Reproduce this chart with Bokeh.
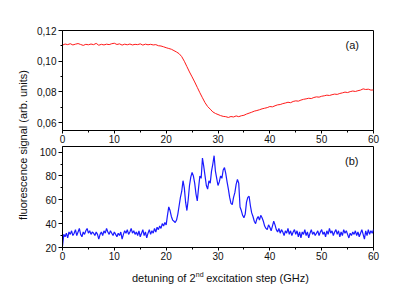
import math
from bokeh.plotting import figure
from bokeh.layouts import row, column
from bokeh.models import Label, Range1d, FixedTicker
from bokeh.embed import file_html
from bokeh.resources import INLINE

# ---------------- data ----------------
X_STEP_A = 0.5
signal_a = [
    0.1105, 0.1112, 0.1108, 0.1114, 0.1106, 0.1111, 0.1115, 0.1109, 0.1103, 0.1110,
    0.1107, 0.1112, 0.1108, 0.1116, 0.1104, 0.1110, 0.1106, 0.1111, 0.1108, 0.1114,
    0.1117, 0.1109, 0.1113, 0.1105, 0.1111, 0.1107, 0.1112, 0.1106, 0.1110, 0.1108,
    0.1113, 0.1105, 0.1111, 0.1107, 0.1110, 0.1106, 0.1108, 0.1101, 0.1099, 0.1094,
    0.1088, 0.1083, 0.1078, 0.1069, 0.1060, 0.1049, 0.1030, 0.1000, 0.0965, 0.0930,
    0.0898, 0.0865, 0.0830, 0.0795, 0.0762, 0.0730, 0.0705, 0.0688, 0.0670, 0.0660,
    0.0653, 0.0646, 0.0641, 0.0639, 0.0634, 0.0640, 0.0637, 0.0644, 0.0639, 0.0645,
    0.0648, 0.0656, 0.0662, 0.0668, 0.0675, 0.0679, 0.0684, 0.0690, 0.0694, 0.0698,
    0.0705, 0.0703, 0.0710, 0.0716, 0.0718, 0.0724, 0.0728, 0.0733, 0.0730, 0.0738,
    0.0742, 0.0740, 0.0747, 0.0752, 0.0755, 0.0759, 0.0757, 0.0764, 0.0768, 0.0766,
    0.0772, 0.0775, 0.0779, 0.0777, 0.0782, 0.0786, 0.0784, 0.0790, 0.0794, 0.0799,
    0.0796, 0.0802, 0.0806, 0.0803, 0.0808, 0.0812, 0.0820, 0.0816, 0.0818, 0.0812,
    0.0813,
]
detuning_a = [i * X_STEP_A for i in range(len(signal_a))]

X_STEP_B = 0.25
signal_b = [
    21, 31, 29, 32, 28, 33, 31, 34, 30, 32, 35, 30, 33, 36, 31, 29, 33, 31, 34, 36,
    32, 34, 31, 33, 32, 30, 33, 31, 27, 31, 33, 30, 34, 32, 36, 33, 31, 34, 32, 30,
    33, 31, 29, 32, 30, 33, 27, 31, 34, 32, 35, 31, 33, 36, 32, 34, 31, 33, 30, 34,
    29, 32, 35, 30, 33, 28, 32, 35, 31, 34, 32, 36, 33, 37, 35, 38, 36, 40, 38, 41,
    39, 47, 54, 51, 46, 43, 42, 41, 43, 48, 55, 62, 67, 76, 70, 58, 51, 60, 72, 79,
    83, 80, 74, 65, 59, 70, 80, 78, 95, 88, 80, 72, 69, 76, 74, 84, 90, 97, 84, 78,
    72, 75, 80, 78, 85, 87, 82, 75, 69, 62, 57, 56, 62, 66, 73, 77, 74, 54, 51, 47,
    45, 48, 58, 62, 63, 55, 49, 46, 42, 40, 44, 46, 43, 47, 45, 42, 38, 36, 35, 39,
    37, 34, 38, 42, 39, 35, 33, 36, 32, 35, 33, 30, 34, 32, 36, 31, 34, 30, 33, 35,
    31, 34, 29, 33, 28, 33, 31, 35, 30, 33, 28, 32, 35, 31, 33, 30, 32, 34, 30, 33,
    35, 31, 33, 29, 34, 31, 36, 32, 34, 30, 33, 35, 31, 34, 29, 33, 30, 35, 32, 34,
    31, 28, 32, 30, 33, 31, 34, 30, 33, 29, 32, 35, 31, 27, 34, 30, 35, 31, 34, 32,
    35,
]
detuning_b = [i * X_STEP_B for i in range(len(signal_b))]

X_TICKS = [0, 10, 20, 30, 40, 50, 60]
X_MINOR = [5, 15, 25, 35, 45, 55]
A_Y_TICKS = [0.06, 0.08, 0.10, 0.12]
A_Y_MINOR = [0.07, 0.09, 0.11]
A_Y_LABELS = ["0,06", "0,08", "0,10", "0,12"]
B_Y_TICKS = [20, 40, 60, 80, 100]
B_Y_MINOR = [30, 50, 70, 90]

X_TITLE_1 = "detuning of 2"
X_TITLE_SUP = "nd"
X_TITLE_2 = "excitation step (GHz)"
Y_TITLE = "fluorescence signal (arb. units)"

FONT = "Liberation Sans"
TICK_SIZE = "10px"
TXT = "#111111"

def style(p, yticks, yminor):
    p.background_fill_color = "white"
    p.border_fill_color = "white"
    p.outline_line_color = "black"
    p.outline_line_width = 1
    p.grid.visible = False
    p.xaxis.ticker = FixedTicker(ticks=X_TICKS, minor_ticks=X_MINOR)
    p.yaxis.ticker = FixedTicker(ticks=yticks, minor_ticks=yminor)
    for ax in (p.xaxis, p.yaxis):
        ax.axis_line_color = "black"
        ax.major_tick_line_color = "black"
        ax.minor_tick_line_color = "black"
        ax.major_label_text_font = FONT
        ax.major_label_text_font_size = TICK_SIZE
        ax.major_label_text_color = TXT
        ax.major_tick_in = 0
        ax.minor_tick_in = 0
    p.xaxis.major_tick_out = 3
    p.xaxis.minor_tick_out = 2
    p.xaxis.major_label_standoff = 1
    p.yaxis.major_tick_out = 4
    p.yaxis.minor_tick_out = 2
    p.yaxis.major_label_standoff = 2

def strip(width, height, x_range, y_range):
    s = figure(width=width, height=height, x_range=x_range, y_range=y_range,
               toolbar_location=None, output_backend="svg",
               x_axis_location=None, y_axis_location=None,
               min_border=0, min_border_left=0, min_border_right=0,
               min_border_top=0, min_border_bottom=0)
    s.outline_line_color = None
    s.grid.visible = False
    s.background_fill_color = "white"
    s.border_fill_color = "white"
    return s

# ---------------- top panel ----------------
pa = figure(width=380, height=145, x_range=Range1d(0, 60), y_range=Range1d(0.0549, 0.12),
            toolbar_location=None, output_backend="svg",
            min_border_left=32, min_border_right=37, min_border_top=30, min_border_bottom=14)
style(pa, A_Y_TICKS, A_Y_MINOR)
pa.yaxis.major_label_overrides = {t: l for t, l in zip(A_Y_TICKS, A_Y_LABELS)}
pa.line(detuning_a, signal_a, line_color="#ff1a1a", line_width=1)
pa.add_layout(Label(x=55.9, y=0.1105, text="(a)", text_align="center", text_baseline="middle",
                    text_font=FONT, text_font_size="11px", text_color=TXT))

# ---------------- bottom panel ----------------
pb = figure(width=380, height=119, x_range=Range1d(0, 60), y_range=Range1d(20, 104.7),
            toolbar_location=None, output_backend="svg",
            min_border_left=32, min_border_right=37, min_border_top=1, min_border_bottom=17)
style(pb, B_Y_TICKS, B_Y_MINOR)
pb.line(detuning_b, signal_b, line_color="#1a1aff", line_width=1.2)
pb.add_layout(Label(x=55.8, y=92.7, text="(b)", text_align="center", text_baseline="middle",
                    text_font=FONT, text_font_size="11px", text_color=TXT))

# ---------------- x title strip (pixel-like coordinates) ----------------
pt = strip(380, 26, Range1d(0, 380), Range1d(0, 26))
pt.add_layout(Label(x=162.6, y=13, text=X_TITLE_1, text_align="right", text_baseline="middle",
                    text_font=FONT, text_font_size="11px", text_color=TXT))
pt.add_layout(Label(x=162.8, y=16.5, text=X_TITLE_SUP, text_align="left", text_baseline="middle",
                    text_font=FONT, text_font_size="7px", text_color=TXT))
pt.add_layout(Label(x=175.5, y=13, text=X_TITLE_2, text_align="left", text_baseline="middle",
                    text_font=FONT, text_font_size="11px", text_color=TXT))

# ---------------- y title strip ----------------
pl = strip(30, 290, Range1d(0, 30), Range1d(0, 290))
pl.add_layout(Label(x=22, y=290 - 144.5, text=Y_TITLE, angle=math.pi / 2, text_align="center",
                    text_baseline="middle", text_font=FONT, text_font_size="11px",
                    text_color=TXT))

layout = row(pl, column(pa, pb, pt))
open("out.html", "w").write(file_html(layout, INLINE))
